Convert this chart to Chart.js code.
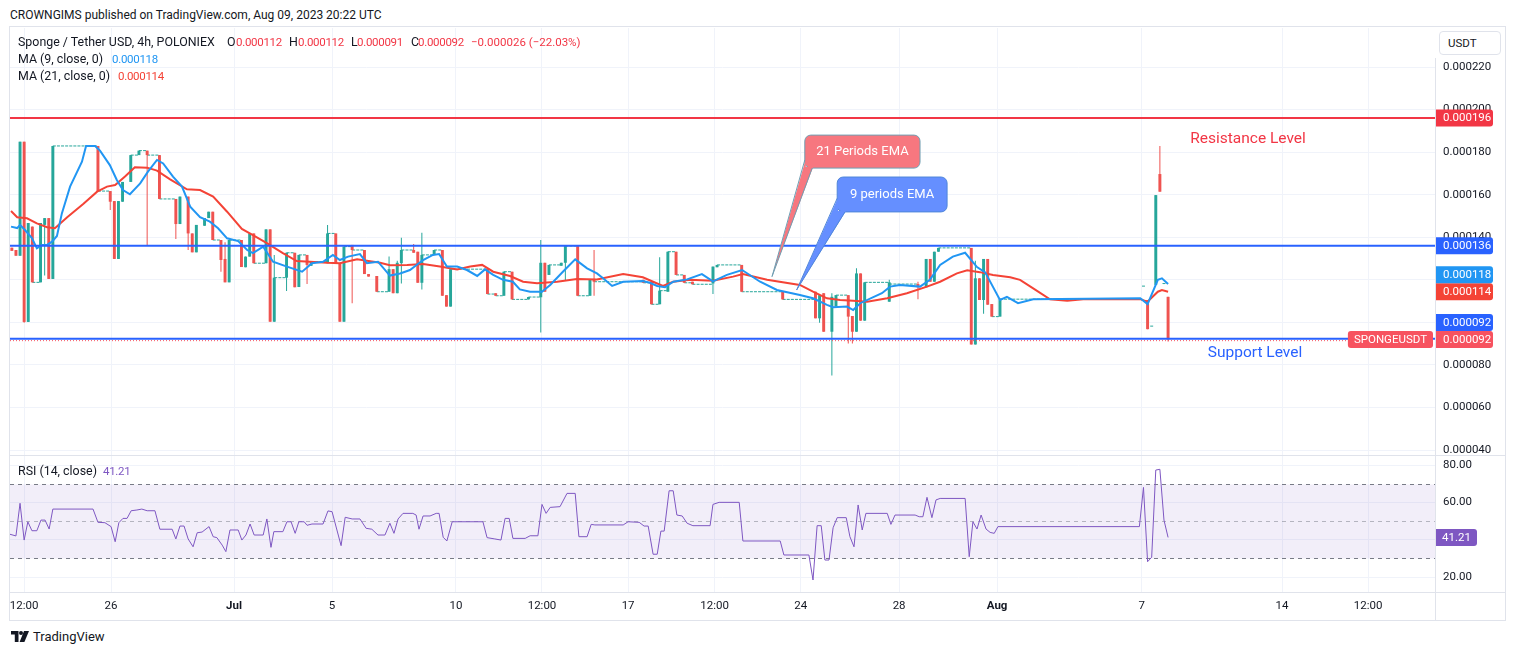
<!DOCTYPE html>
<html>
<head>
<meta charset="utf-8">
<title>Sponge / Tether USD, 4h</title>
<script src="https://cdn.jsdelivr.net/npm/chart.js@4.4.1/dist/chart.umd.min.js"></script>
<style>
  html, body { margin: 0; padding: 0; background: #fff; }
  body { font-family: Roboto, "Noto Sans", sans-serif; color: #131722; }
  #page { position: relative; width: 1515px; height: 655px; overflow: hidden; }
  .t { position: absolute; white-space: nowrap; font-size: 12.4px; line-height: 16px; z-index: 5; }
  .sep { position: absolute; background: #e0e3eb; z-index: 3; }
  #frame { position: absolute; left: 9px; top: 26px; width: 1495px; height: 593px; border: 1px solid #e0e3eb; }
  #priceBox { position: absolute; left: 10px; top: 28px; width: 1495px; height: 427px; }
  #rsiBox { position: absolute; left: 10px; top: 455px; width: 1495px; height: 165px; }
  #usdt { position: absolute; left: 1439px; top: 31px; width: 62px; height: 24px; box-sizing: border-box;
          border: 1px solid #e0e3eb; border-radius: 4px; font-size: 11.5px; line-height: 22px; padding-left: 8px; background: #fff; z-index: 4; }
  #logo { position: absolute; left: 11px; top: 631px; }
</style>
</head>
<body>
<div id="page">
  <div class="t" style="left:10px;top:7px;font-size:12px;">CROWNGIMS published on TradingView.com, Aug 09, 2023 20:22 UTC</div>
  <div id="frame"></div>
  <div id="priceBox"><canvas id="priceChart"></canvas></div>
  <div id="rsiBox"><canvas id="rsiChart"></canvas></div>
  <div class="sep" style="left:10px;top:455px;width:1495px;height:1px;"></div>
  <div class="sep" style="left:10px;top:592px;width:1495px;height:1px;"></div>
  <div class="sep" style="left:1435px;top:58px;width:1px;height:562px;"></div>
  <div id="usdt">USDT</div>
  <div id="legend"></div>
  <svg id="logo" width="18" height="12" viewBox="0 0 18 12">
    <path d="M0 0H7.5V11H3.8V3.6H0Z" fill="#131722"/>
    <circle cx="10" cy="2" r="2" fill="#131722"/>
    <path d="M13 0H18L13.4 11H8.6Z" fill="#131722"/>
  </svg>
  <div class="t" style="left:33px;top:629px;font-size:13px;">TradingView</div>
</div>
<script>
// prices are in millionths of USDT (112 -> 0.000112); x is the 4h bar number
const barIdx = [0,1,2,3,4,5,7,8,9,10,
  21,24,25,26,27,29,31,33,36,40,
  41,43,44,45,47,48,49,51,52,53,
  56,57,58,59,62,63,64,67,69,70,
  72,73,77,79,80,81,83,86,87,89,
  92,93,94,95,98,99,100,103,105,106,
  107,116,118,120,122,126,129,130,131,134,
  135,138,141,142,154,156,158,160,162,164,
  166,171,172,178,188,196,197,198,200,201,
  204,205,206,207,208,214,221,223,224,225,
  226,234,235,236,237,238,239,241,276,277,
  278,279,280,281,282];
const openP = [135.1,134,131.3,184.9,100.2,145,118.8,145.8,149,120.4,
  182.9,161.7,157,129.8,156.7,166,178.6,180.7,178.6,158,
  146.2,159.1,141.8,132.9,145.4,149,152,138.7,129.8,118.8,
  138.7,125.9,130.9,141.8,127.8,143.7,100.3,121,132.7,116.6,
  131.7,126.6,127.8,141.8,127.8,100.3,136.4,134,122.7,121.8,
  114.4,125,113.7,127.8,134,133.2,118.6,131.7,134,112.8,
  107.4,125,113.7,112.5,123.8,110.8,111.8,128,122.3,126.6,
  128,135.9,112.5,120.4,120,119.1,108.5,114.4,133.2,122.3,
  119.1,118.3,125.9,127,114.4,114.4,101.9,113.7,95.6,107.4,
  112.8,103,95.6,123,100.8,109.7,118,116.5,129.8,119.1,
  133.2,135,89.6,120.7,110.5,129.8,108.6,102.7,116.8,110.5,
  98,117.6,169.7,118,112];
const highP = [135.1,134,184.9,184.9,146.7,145,146.7,149,149,182.9,
  182.9,161.7,157,157,166,178.6,180.7,180.7,178.6,158,
  159.1,159.1,141.8,145.8,149,152,152,138.7,137.6,138.7,
  138.7,130.9,141.8,141.8,143.7,143.7,131.7,132.7,132.7,131.7,
  131.7,128.5,145.8,141.8,127.8,135.6,136.4,134,122.7,121.8,
  130.9,125,129,139.8,136.8,133.2,142.1,134,134,112.8,
  125,125,113.7,123.8,123.8,111.9,138.7,128,127,128,
  135.9,135.9,120.4,134,120,119.1,130.6,133.2,133.2,122.3,
  119.1,126.2,127,127,114.4,114.4,112.8,113.7,113.7,112.8,
  112.8,103,125.4,123,118.8,120,119.1,129.8,129.8,133.2,
  135,135,129,120.7,129.8,129.8,108.6,110.9,116.8,110.5,
  98,159.8,182.9,118,112];
const lowP = [133.6,131.3,131.3,99.8,100.2,118.8,118.8,122,120.4,120.4,
  161.7,152.8,129.8,129.8,156.7,166,178.6,136.4,158,139.2,
  146.2,134,132.9,132.9,145.4,149,138.7,123.8,118.8,118.8,
  126,125.9,130.9,127.8,127.8,100.3,100.3,114.7,116.5,116.6,
  118,126.6,127.8,127.8,100.3,100.3,109,122.7,121.5,114.4,
  114.4,113.7,113.7,118.3,132.7,118.6,115.5,131.7,112.5,107.4,
  107.4,113.3,112.5,112.5,110.8,110.8,95.2,114.4,122.3,126.6,
  119.9,112.5,112.5,112.5,118.6,108.5,108.5,114.4,122.3,118.6,
  117.9,113.3,125.9,114.4,110.8,101.9,99.8,95.6,75,107.4,
  90.1,90.1,95.6,100.8,100.8,109.7,110.9,116.5,119.1,119.1,
  133.2,89.6,89.6,110.5,104,108.3,102.7,102.7,116.8,96.8,
  98,117.6,161.4,118,91];
const closeP = [133.6,131.3,184.9,100.2,146.7,118.8,146.7,149,120.4,182.9,
  161.7,156.7,129.8,157,166,178.6,180.7,178.6,158,146.2,
  159.1,141.8,132.9,145.8,149,152,138.7,129.3,118.8,138.7,
  126,130.9,141.8,127.8,143.7,100.3,121,132.7,116.5,131.7,
  127,128.5,141.8,127.8,100.3,135.6,134,122.7,121.5,114.4,
  125,113.7,128,134,132.7,118.6,131.7,134,112.5,107.4,
  125,113.3,112.5,123.8,110.8,111.9,128,114.4,127,128,
  135.9,112.5,120.4,119.1,118.6,108.5,114.9,133.2,122.3,118.6,
  117.9,126.2,127,114.4,110.8,101.9,112.8,95.6,112,112.8,
  102.7,95.6,123,100.8,118.8,118.8,116.5,129.8,119.1,133.2,
  135,89.6,120.7,110.5,129.8,108.3,102.7,110.9,116.8,96.8,
  98,159.8,161.4,118,92];

// stretches without trades (price held flat between two bars)
const flatFrom  = [5,10,21,29,31,33,36,49,53,59,64,67,70,73,77,81,83,89,95,100,103,107,116,118,120,122,126,131,135,138,142,154,156,158,160,162,164,166,172,178,188,201,208,214,226,239,241];
const flatTo    = [7,21,24,31,33,36,40,51,56,62,67,69,72,77,79,83,86,92,98,103,105,116,118,120,122,126,129,134,138,141,154,156,158,160,162,164,166,171,178,188,196,204,214,221,234,241,276];
const flatPrice = [118.8,182.9,161.7,178.6,180.7,178.6,158,138.7,138.7,127.8,121,132.7,131.7,128.5,141.8,135.6,134,114.4,134,131.7,134,125,113.3,112.5,123.8,110.8,111.9,127,135.9,112.5,119.1,118.6,108.5,114.9,133.2,122.3,118.6,117.9,127,114.4,110.8,112.8,118.8,118,135,102.7,110.9];

// MA (9) and MA (21)
const maFastX = [-0.2,1.3,2.0,3.2,4.9,6.1,7.4,8.6,9.8,11.0,12.2,14.2,17.1,18.1,20.3,21.5,23.9,25.6,27.1,28.8,
  31.3,33.2,35.4,36.9,39.3,41.5,43.5,45.9,48.3,50.3,52.5,55.2,57.4,58.8,61.3,63.7,67.1,70.8,73.2,75.9,
  78.3,80.0,82.0,84.9,86.6,89.3,92.2,94.7,97.1,100.3,102.7,104.2,106.1,108.6,111.0,113.5,115.4,117.4,119.8,122.2,
  123.9,126.4,129.3,131.3,134.4,137.4,140.3,142.7,144.2,146.4,149.1,153.9,155.6,157.4,159.3,161.3,164.7,168.3,171.0,174.4,
  178.1,182.5,186.6,192.2,195.4,198.8,200.3,203.7,205.2,206.9,212.2,214.2,216.6,221.5,223.9,226.4,229.5,232.5,235.4,237.4,
  241.0,242.7,245.4,249.1,275.2,277,279.5,280.5,282];
const maFastY = [145,144.3,145.8,143.4,139.6,134.8,136.4,136.4,137.9,140.6,151.2,163.8,175.5,182.9,182.9,180.7,173.9,166.9,162.2,160.2,
  165.3,170.8,176.3,174.7,168.5,163.8,154.4,149.4,147.3,144.2,139.5,138.2,134,132.5,135.6,128.5,126.2,123.8,127.8,128.5,
  131.7,129.3,130.9,132.1,127.8,128.5,122,123,124.6,129.3,131.7,132.1,126.2,126.2,124.6,121.8,124.9,122.3,120,119.1,
  115.5,114.4,114.4,117.6,123.8,129.6,125.4,123,120.7,117.1,119.1,119.4,118.6,117.1,116.5,119.1,120.2,122.7,119.3,122.3,
  124.6,119.1,115.2,112.9,111.3,108.2,107.1,107.4,105.8,109,113.7,116.8,117.6,116.8,120,127,130.9,132.7,126,123.5,
  110.5,112,109,110.9,111.3,108.6,120,120.7,118];
const maSlowX = [-0.2,1.3,3.7,6.1,8.6,10.5,13.5,17.4,20.8,23.2,25.2,27.6,30.0,33.0,35.4,38.6,42.7,45.9,49.1,52.5,
  56.1,58.8,62.2,66.1,69.5,72.7,76.9,80.0,84.2,86.6,89.8,92.2,96.4,100.3,104.4,108.6,111.8,114.7,117.4,121.5,
  124.7,128.1,133.0,137.8,142.7,149.1,153.9,156.4,158.8,161.3,165.4,171.0,175.9,178.3,184.2,192.2,195.4,198.8,202.0,205.2,
  208.6,213.5,218.3,223.2,226.4,230.5,233.0,236.1,239.3,243.5,245.9,249.1,253.2,257.4,261.3,275.2,277,279.5,280.5,282];
const maSlowY = [152.3,149.4,148.9,146.5,144.7,144.2,149.4,155.6,161.4,163.8,164.5,168.5,172.9,172.7,171.3,167.2,162.5,162.2,159.1,152,
  143.9,141,137.2,132.5,128.8,128.5,128,127.8,129.6,129,128,126.8,127,127.4,126.2,124.9,126.2,127,123.8,121.8,
  119.1,118.4,119.1,120.4,120.2,122.7,121.2,119.1,117.1,119.1,120,119.6,121.5,122.7,120,117.6,114.4,111.3,110.5,110.2,
  109.7,111.3,113.7,116.8,119.1,123,124.5,123.6,122.3,121.2,120,116,110.8,110.2,110.9,110.9,109.7,114.4,115.2,114.4];

// RSI (14)
const rsiX = [-0.45,1.0,2.0,3.0,3.9,4.9,6.1,7.1,8.1,9.1,10.0,19.8,21.0,22.7,24.2,25.2,26.1,27.1,28.1,29.1,
  30.5,31.7,33.0,34.9,36.1,39.1,40.0,41.0,42.0,43.0,44.2,45.2,46.4,48.1,49.1,50.0,51.3,52.2,53.2,55.2,
  56.1,57.1,58.1,59.1,61.3,62.2,63.2,63.9,66.1,67.1,68.1,69.1,70.0,71.3,72.0,73.2,75.9,77.1,78.1,80.3,
  81.3,83.0,84.9,86.4,87.8,89.3,91.0,92.2,93.2,94.2,95.4,97.8,98.6,99.3,100.3,102.0,103.5,104.2,105.2,106.1,
  107.4,114.9,115.9,117.8,119.3,120.3,121.3,122.2,125.2,126.4,128.3,129.3,130.3,131.3,133.7,135.4,137.4,138.3,140.3,141.3,
  142.2,149.1,150.3,153.0,154.2,155.2,156.4,157.4,158.3,159.1,160.3,161.3,162.2,163.5,164.7,166.1,170.3,171.0,172.5,177.4,
  178.3,187.4,188.3,194.4,195.4,196.4,197.4,198.3,199.3,200.3,201.3,203.5,204.4,205.4,206.4,207.4,208.3,213.5,214.4,215.4,
  220.3,221.3,222.2,223.2,224.4,225.4,226.4,232.5,233.5,234.4,235.4,236.4,237.6,238.6,239.6,240.5,275,276,277,278,
  279,280,281,282];
const rsiY = [42.9,42,59.5,39.8,49.6,44.8,44.8,50.5,50.5,45.7,56.4,56.4,49.3,49.1,47,38.9,49.1,51.4,51.4,55.5,
  55.9,56.4,55.5,55.5,45.6,45.6,40.4,47.3,47.3,40.4,36.2,43.7,44.1,47,41.6,41.1,37.1,33.6,45.2,45.2,
  39.8,42.5,48.4,42.5,42.5,51.1,35.9,44.3,44.3,49.6,49.6,43.4,49.6,49.6,47.7,48.4,48.4,55.4,55,36.8,
  52,51.1,51.1,46.1,45.6,42.5,42.5,48.8,43.4,51.1,54.1,54.1,53.2,45.6,52.7,52.7,54.1,54.1,41.3,39.3,
  49.6,49.6,41.1,40.4,39.8,51.4,51.4,40.7,40.7,42.1,42.1,58.9,54.1,57.3,57.7,64.8,64.8,41.6,41.6,48.2,
  47.9,47.9,49.6,49.3,47.3,47.3,32.2,32.2,44.6,44.6,66.2,66.2,53.2,52.7,48.8,47.5,47.5,58.9,60,60,
  39.3,39.3,31.8,31.8,18.4,47.5,47.5,29.1,29.1,46.4,51.8,51.8,41.6,36.2,58.6,45.2,54.1,54.1,48.2,53.2,
  53.2,52.3,52.3,62.7,51.8,61.3,62.1,62.1,30.9,49.6,45.7,53.2,45.7,43.9,43.4,47,47,68,28.2,30.6,
  77.3,77.7,50.5,41.21];
const rsiBands = [70, 50, 30];

// drawn levels
const resistance = 196, middleLevel = 136, support = 92.3;

// axes
const timeTickPos  = [3.0, 24.2, 54.2, 78.1, 108.3, 129.3, 150.3, 171.4, 192.4, 216.4, 240.3, 275.6, 309.8, 330.8];
const timeTickText = ['12:00', '26', 'Jul', '5', '10', '12:00', '17', '12:00', '24', '28', 'Aug', '7', '14', '12:00'];
const priceTicks = [40, 60, 80, 100, 120, 140, 160, 180, 200, 220];
const rsiTicks = [20, 40, 60, 80];
const xMin = -0.45, xMax = 347.1;
const priceMin = 37.67, priceMax = 238.33;
const rsiMin = 11.98, rsiMax = 85.36;

const UP = '#26a69a', DOWN = '#ef5350', GRID = '#f0f3fa';
const FONT = 'Roboto, "Noto Sans", sans-serif';
Chart.defaults.font.family = FONT;
Chart.defaults.font.size = 11.5;
Chart.defaults.color = '#131722';

const fmt = v => (v / 1e6).toFixed(6);
const last = a => a[a.length - 1];

// ---- legend text (DOM) ----
const n = closeP.length;
const chg = closeP[n - 1] - closeP[n - 2];
const sgn = chg < 0 ? '\u2212' : '+';
const chgTxt = sgn + fmt(Math.abs(chg)) + ' (' + sgn + Math.abs(chg / closeP[n - 2] * 100).toFixed(2) + '%)';
const DARK = '#131722', RED = '#f23645';
// [left, centre y, text, colour, kind]  kind: 'l' label, 'v' number, 'c' change
const legendItems = [
  [18, 42, 'Sponge / Tether USD, 4h, POLONIEX', DARK, 'l'],
  [227, 42, 'O', DARK, 'l'], [236, 42, fmt(openP[n - 1]), RED, 'v'],
  [289, 42, 'H', DARK, 'l'], [298, 42, fmt(highP[n - 1]), RED, 'v'],
  [351, 42, 'L', DARK, 'l'], [357, 42, fmt(lowP[n - 1]), RED, 'v'],
  [411, 42, 'C', DARK, 'l'], [418, 42, fmt(closeP[n - 1]), RED, 'v'],
  [471, 42, chgTxt, RED, 'c'],
  [18, 59, 'MA (9, close, 0)', DARK, 'l'], [112, 59, fmt(last(maFastY)), '#2196f3', 'v'],
  [18, 76, 'MA (21, close, 0)', DARK, 'l'], [118, 76, fmt(last(maSlowY)), '#f44336', 'v'],
  [18, 471, 'RSI (14, close)', DARK, 'l'], [103, 471, last(rsiY).toFixed(2), '#7e57c2', 'v']
];
const legend = document.getElementById('legend');
legendItems.forEach(([x, y, txt, col, kind]) => {
  const d = document.createElement('div');
  d.className = 't';
  d.style.left = x + 'px';
  d.style.top = (y - 8) + 'px';
  d.style.color = col;
  if (kind === 'v') { d.style.fontSize = '11.5px'; d.style.letterSpacing = '-0.3px'; }
  if (kind === 'c') { d.style.fontSize = '11.5px'; }
  d.textContent = txt;
  legend.appendChild(d);
});

// ---- datasets ----
const bodies = barIdx.map((b, i) => ({ x: b, y: [Math.min(openP[i], closeP[i]), Math.max(openP[i], closeP[i])] }));
const wicks = barIdx.map((b, i) => ({ x: b, y: [lowP[i], highP[i]] }));
const candleColors = barIdx.map((b, i) => closeP[i] >= openP[i] ? UP : DOWN);

const flats = [];
flatFrom.forEach((f, i) => {
  flats.push({ x: f, y: flatPrice[i] }, { x: flatTo[i], y: flatPrice[i] }, { x: flatTo[i], y: null });
});
const pts = (xs, ys) => xs.map((x, i) => ({ x, y: ys[i] }));
const hline = v => [{ x: xMin, y: v }, { x: xMax, y: v }];

const priceTags = [
  { value: resistance, text: fmt(resistance), color: '#f23645', fixed: true },
  { value: middleLevel, text: fmt(middleLevel), color: '#2962ff', fixed: true },
  { value: last(maSlowY), text: fmt(last(maSlowY)), color: '#f44336', fixed: true },
  { value: last(closeP), text: fmt(last(closeP)), color: '#f7525f', fixed: true },
  { value: last(maFastY), text: fmt(last(maFastY)), color: '#2196f3' },
  { value: support, text: fmt(support), color: '#2962ff' }
];

// callout boxes: box [x1, x2, top, bottom], base points on the box, tip on the MA line
const callouts = [
  { text: '21 Periods EMA', fill: '#f7777f', border: '#6f9fb3',
    box: [193.4, 221.5, 188.0, 172.5], base: [193.4, 176.3, 195.2, 172.5], tip: [185.4, 121.5] },
  { text: '9 periods EMA', fill: '#658fff', border: '#4f86d9',
    box: [201.3, 228.1, 168.3, 151.9], base: [201.3, 158.3, 203.2, 151.9], tip: [191.4, 115.2] }
];
const levelLabels = [
  { text: 'Resistance Level', x: 301.5, y: 186, color: '#f23645' },
  { text: 'Support Level', x: 303.2, y: 85.5, color: '#2962ff' }
];

const priceExtras = {
  id: 'priceExtras',
  afterDatasetsDraw(chart) {
    const { ctx, scales: { x, y } } = chart;
    ctx.save();
    callouts.forEach(c => {
      const x1 = x.getPixelForValue(c.box[0]), x2 = x.getPixelForValue(c.box[1]);
      const y1 = y.getPixelForValue(c.box[2]), y2 = y.getPixelForValue(c.box[3]);
      const a = [x.getPixelForValue(c.base[0]), y.getPixelForValue(c.base[1])];
      const b = [x.getPixelForValue(c.base[2]), y.getPixelForValue(c.base[3])];
      const t = [x.getPixelForValue(c.tip[0]), y.getPixelForValue(c.tip[1])];
      ctx.lineWidth = 1;
      ctx.fillStyle = c.fill;
      ctx.strokeStyle = c.border;
      ctx.beginPath();
      ctx.roundRect(x1, y1, x2 - x1, y2 - y1, 6);
      ctx.fill();
      ctx.stroke();
      ctx.beginPath();
      ctx.moveTo(a[0] + 1, a[1] - 1); ctx.lineTo(t[0], t[1]); ctx.lineTo(b[0] + 1, b[1] - 1);
      ctx.lineTo(a[0] + 1, b[1] - 1);
      ctx.closePath();
      ctx.fill();
      ctx.beginPath();
      ctx.moveTo(a[0], a[1]); ctx.lineTo(t[0], t[1]); ctx.lineTo(b[0], b[1]);
      ctx.stroke();
      ctx.fillStyle = '#fff';
      ctx.font = '13px ' + FONT;
      ctx.textAlign = 'center';
      ctx.textBaseline = 'middle';
      ctx.fillText(c.text, (x1 + x2) / 2, (y1 + y2) / 2 + 0.5);
    });
    levelLabels.forEach(l => {
      ctx.fillStyle = l.color;
      ctx.font = '15.5px ' + FONT;
      ctx.textAlign = 'center';
      ctx.textBaseline = 'middle';
      ctx.fillText(l.text, x.getPixelForValue(l.x), y.getPixelForValue(l.y));
    });
    ctx.restore();
  },
  afterDraw(chart) {
    const { ctx, chartArea, scales: { y } } = chart;
    const h = 17, w = 57, x0 = chartArea.right + 1;
    const list = priceTags.map(t => ({ ...t, cy: y.getPixelForValue(t.value) }));
    const placed = list.filter(t => t.fixed);
    list.filter(t => !t.fixed).forEach(t => {
      let hit;
      while ((hit = placed.find(p => Math.abs(p.cy - t.cy) < h - 0.5))) t.cy = hit.cy - h;
      placed.push(t);
    });
    ctx.save();
    ctx.font = '11.5px ' + FONT;
    ctx.textBaseline = 'middle';
    ctx.textAlign = 'left';
    placed.forEach(t => {
      ctx.fillStyle = t.color;
      ctx.beginPath();
      ctx.roundRect(x0, t.cy - h / 2, w, h, [0, 3, 3, 0]);
      ctx.fill();
      ctx.fillStyle = '#fff';
      ctx.fillText(t.text, x0 + 7, t.cy + 0.5);
    });
    // symbol badge next to the last price
    const cy = y.getPixelForValue(last(closeP));
    const sym = 'SPONGEUSDT';
    const sw = ctx.measureText(sym).width + 12;
    ctx.fillStyle = '#f7525f';
    ctx.beginPath();
    ctx.roundRect(chartArea.right - 2 - sw, cy - h / 2, sw, h, 3);
    ctx.fill();
    ctx.fillStyle = '#fff';
    ctx.fillText(sym, chartArea.right - 2 - sw + 6, cy + 0.5);
    ctx.restore();
  }
};

const zeroPad = s => { s.paddingTop = 0; s.paddingBottom = 0; s.paddingLeft = 0; s.paddingRight = 0; };

new Chart(document.getElementById('priceChart'), {
  type: 'bar',
  data: {
    datasets: [
      { type: 'line', data: hline(resistance), borderColor: '#f23645', borderWidth: 2, pointRadius: 0, order: 0 },
      { type: 'line', data: hline(middleLevel), borderColor: '#2962ff', borderWidth: 2, pointRadius: 0, order: 0 },
      { type: 'line', data: hline(support), borderColor: '#2962ff', borderWidth: 2, pointRadius: 0, order: 0 },
      { type: 'line', data: [{ x: xMin, y: last(closeP) - 0.6 }, { x: 327, y: last(closeP) - 0.6 }],
        borderColor: '#f7525f', borderWidth: 1, borderDash: [1, 2], pointRadius: 0, order: 0 },
      { type: 'line', data: pts(maFastX, maFastY), borderColor: '#2196f3', borderWidth: 2, pointRadius: 0, order: 1 },
      { type: 'line', data: pts(maSlowX, maSlowY), borderColor: '#f44336', borderWidth: 2, pointRadius: 0, order: 2 },
      { type: 'bar', data: bodies, backgroundColor: candleColors, grouped: false, minBarLength: 1,
        barPercentage: 0.9, categoryPercentage: 0.8, maxBarThickness: 3, order: 3 },
      { type: 'bar', data: wicks, backgroundColor: candleColors, grouped: false,
        barPercentage: 0.9, categoryPercentage: 0.8, maxBarThickness: 1, order: 4 },
      { type: 'line', data: flats, borderColor: UP, borderWidth: 1, borderDash: [3, 1.1], pointRadius: 0,
        spanGaps: false, order: 5 }
    ]
  },
  options: {
    responsive: true, maintainAspectRatio: false, animation: false,
    layout: { padding: 0 },
    plugins: { legend: { display: false }, tooltip: { enabled: false } },
    scales: {
      x: {
        type: 'linear', min: xMin, max: xMax, offset: false,
        grid: { color: GRID, drawTicks: false, offset: false },
        border: { display: false },
        ticks: { display: false },
        afterBuildTicks: s => { s.ticks = timeTickPos.map(v => ({ value: v })); },
        afterFit: s => { s.height = 0; zeroPad(s); }
      },
      y: {
        position: 'right', min: priceMin, max: priceMax, beginAtZero: false,
        grid: { color: GRID, drawTicks: false },
        border: { display: false },
        ticks: { padding: 8, callback: v => fmt(v) },
        afterBuildTicks: s => { s.ticks = priceTicks.map(v => ({ value: v })); },
        afterFit: s => { s.width = 70; zeroPad(s); }
      }
    }
  },
  plugins: [priceExtras]
});

const rsiExtras = {
  id: 'rsiExtras',
  beforeDatasetsDraw(chart) {
    const { ctx, chartArea: a, scales: { y } } = chart;
    const [yTop, yMid, yBot] = rsiBands.map(v => Math.round(y.getPixelForValue(v)) + 0.5);
    ctx.save();
    ctx.fillStyle = 'rgba(126,87,194,0.1)';
    ctx.fillRect(a.left, yTop, a.right - a.left, yBot - yTop);
    ctx.lineWidth = 1;
    ctx.setLineDash([4, 4]);
    ctx.strokeStyle = '#787b86';
    [yTop, yBot].forEach(v => { ctx.beginPath(); ctx.moveTo(a.left, v); ctx.lineTo(a.right, v); ctx.stroke(); });
    ctx.strokeStyle = 'rgba(120,123,134,0.5)';
    ctx.beginPath(); ctx.moveTo(a.left, yMid); ctx.lineTo(a.right, yMid); ctx.stroke();
    ctx.restore();
  },
  afterDraw(chart) {
    const { ctx, chartArea, scales: { y } } = chart;
    const v = last(rsiY), cy = y.getPixelForValue(v), h = 17, w = 41;
    ctx.save();
    ctx.fillStyle = '#7e57c2';
    ctx.beginPath();
    ctx.roundRect(chartArea.right + 1, cy - h / 2, w, h, [0, 3, 3, 0]);
    ctx.fill();
    ctx.fillStyle = '#fff';
    ctx.font = '11.5px ' + FONT;
    ctx.textAlign = 'center';
    ctx.textBaseline = 'middle';
    ctx.fillText(v.toFixed(2), chartArea.right + 1 + w / 2, cy + 0.5);
    ctx.restore();
  }
};

new Chart(document.getElementById('rsiChart'), {
  type: 'line',
  data: {
    datasets: [
      { data: pts(rsiX, rsiY), borderColor: '#7e57c2', borderWidth: 1, pointRadius: 0 }
    ]
  },
  options: {
    responsive: true, maintainAspectRatio: false, animation: false,
    layout: { padding: 0 },
    plugins: { legend: { display: false }, tooltip: { enabled: false } },
    scales: {
      x: {
        type: 'linear', min: xMin, max: xMax, offset: false,
        grid: { color: GRID, drawTicks: false },
        border: { display: false },
        ticks: {
          padding: 7, autoSkip: false, maxRotation: 0,
          callback: (v, i) => timeTickText[i],
          font: ctx => ({ size: 11.5, weight: /^[A-Z]/.test(timeTickText[ctx.index] || '') ? 'bold' : 'normal' })
        },
        afterBuildTicks: s => { s.ticks = timeTickPos.map(v => ({ value: v })); },
        afterFit: s => { s.height = 28; zeroPad(s); }
      },
      y: {
        position: 'right', min: rsiMin, max: rsiMax,
        grid: { color: GRID, drawTicks: false },
        border: { display: false },
        ticks: { padding: 8, callback: v => v.toFixed(2) },
        afterBuildTicks: s => { s.ticks = rsiTicks.map(v => ({ value: v })); },
        afterFit: s => { s.width = 70; zeroPad(s); }
      }
    }
  },
  plugins: [rsiExtras]
});
</script>
</body>
</html>
